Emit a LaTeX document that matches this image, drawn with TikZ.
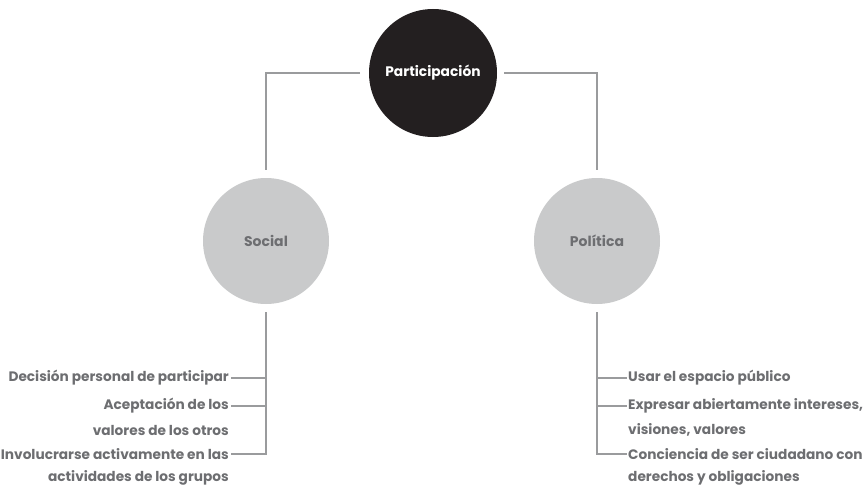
\documentclass[tikz,border=0pt]{standalone}
\usepackage{fontspec}
\setmainfont{Poppins}
\begin{document}
\begin{tikzpicture}[x=1pt,y=-1pt,
  conn/.style={draw=linegray,line width=2pt},
  bigc/.style={circle,minimum size=128pt,inner sep=0pt,fill=darkc,text=white,font=\bfseries\fontsize{13.8}{16}\selectfont},
  subc/.style={circle,minimum size=126pt,inner sep=0pt,fill=lightc,text=textgray,font=\bfseries\fontsize{14}{16}\selectfont},
  item/.style={inner sep=0pt,text=textgray,font=\bfseries\fontsize{13.7}{15}\selectfont}]
\definecolor{linegray}{HTML}{9A9B9D}
\definecolor{darkc}{HTML}{231F20}
\definecolor{lightc}{HTML}{C9CACB}
\definecolor{textgray}{HTML}{6D6E71}
\useasboundingbox (0,0) rectangle (868,487);
\node[bigc] (par) at (433,73) {Participación};
\node[subc] (soc) at (266,241) {Social};
\node[subc] (pol) at (597,241) {Política};
\coordinate (pl) at (360,73);
\coordinate (pr) at (504,73);
\coordinate (st) at (266,170);
\coordinate (pt) at (597,170);
\draw[conn] (pl) -| (st);
\draw[conn] (pr) -| (pt);
% left items
\coordinate (sb) at (266,312);
\coordinate (s1) at (266,378);
\coordinate (s2) at (266,406);
\coordinate (s3) at (266,454);
\node[item,anchor=east] (l1) at (229,378) {Decisión personal de participar};
\node[item,anchor=east] (l2) at (229,406) {Aceptación de los};
\node[item,anchor=east] (l2b) at (229,430) {valores de los otros};
\node[item,anchor=east] (l3) at (229,454) {Involucrarse activamente en las};
\node[item,anchor=east] (l3b) at (229,478) {actividades de los grupos};
\draw[conn] (sb) -- (s3) -- ([xshift=2pt]l3.east);
\draw[conn] (s1) -- ([xshift=2pt]l1.east);
\draw[conn] (s2) -- ([xshift=2pt]l2.east);
% right items
\coordinate (pb) at (597,312);
\coordinate (p1) at (597,378);
\coordinate (p2) at (597,406);
\coordinate (p3) at (597,454);
\node[item,anchor=west] (r1) at (628,378) {Usar el espacio público};
\node[item,anchor=west] (r2) at (628,406) {Expresar abiertamente intereses,};
\node[item,anchor=west] (r2b) at (628,430) {visiones, valores};
\node[item,anchor=west] (r3) at (628,454) {Conciencia de ser ciudadano con};
\node[item,anchor=west] (r3b) at (628,478) {derechos y obligaciones};
\draw[conn] (pb) -- (p3) -- ([xshift=-1pt]r3.west);
\draw[conn] (p1) -- ([xshift=-1pt]r1.west);
\draw[conn] (p2) -- ([xshift=-1pt]r2.west);
\end{tikzpicture}
\end{document}
